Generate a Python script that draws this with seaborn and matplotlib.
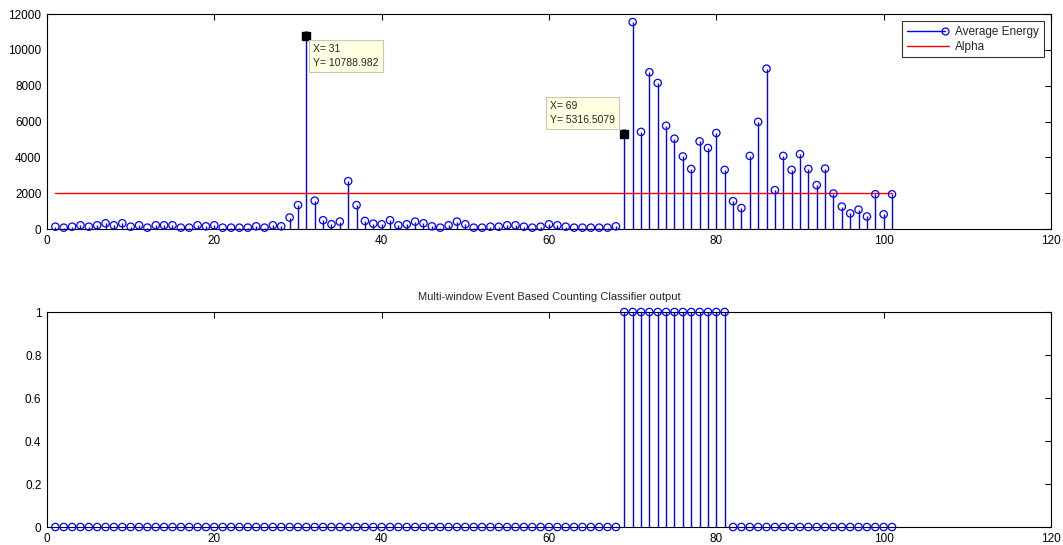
import numpy as np
import pandas as pd
import matplotlib
matplotlib.use("Agg")
import matplotlib.pyplot as plt
import seaborn as sns
from matplotlib.lines import Line2D
from matplotlib.legend_handler import HandlerBase

# ---------------- data ----------------
x_index = list(range(1, 102))
avg_energy = [
    130, 75, 130, 207, 130, 207, 320, 207, 320, 130,   # 1-10
    207, 75, 207, 207, 207, 75, 75, 207, 150, 207,      # 11-20
    75, 75, 75, 75, 150, 75, 207, 150, 640, 1335,       # 21-30
    10788.982, 1580, 490, 263, 414, 2670, 1335, 450, 300, 263,  # 31-40
    490, 207, 263, 414, 320, 150, 75, 207, 414, 263,    # 41-50
    75, 75, 130, 130, 207, 207, 130, 75, 130, 263,      # 51-60
    207, 130, 75, 75, 75, 75, 75, 150, 5316.5079, 11550,  # 61-70
    5420, 8750, 8150, 5760, 5040, 4050, 3350, 4890, 4520, 5360,  # 71-80
    3300, 1550, 1170, 4080, 5980, 8950, 2170, 4080, 3300, 4180,  # 81-90
    3350, 2450, 3370, 1980, 1250, 870, 1080, 700, 1940, 820,     # 91-100
    1940,                                                        # 101
]
alpha_level = 2000
classifier_out = [1 if 69 <= i <= 81 else 0 for i in x_index]

tips = [(31, 10788.982, "X= 31\nY= 10788.982"),
        (69, 5316.5079, "X= 69\nY= 5316.5079")]

bottom_title = "Multi-window Event Based Counting Classifier output"
legend_labels = ["Average Energy", "Alpha"]

# ---------------- style ----------------
sns.set_theme(style="white")
plt.rcParams["font.family"] = ["Liberation Sans", "DejaVu Sans"]
plt.rcParams["font.size"] = 8.5

df = pd.DataFrame({"x": x_index, "energy": avg_energy, "cls": classifier_out})

fig = plt.figure(figsize=(10.63, 5.45), dpi=100)
fig.patch.set_facecolor("white")
ax1 = fig.add_axes([0.0442, 0.5798, 0.9445, 0.3945])
ax2 = fig.add_axes([0.0442, 0.0330, 0.9445, 0.3945])

BLUE = "#0000ff"
RED = "#ff0000"


def style_axes(ax):
    for s in ax.spines.values():
        s.set_visible(True)
        s.set_color("black")
        s.set_linewidth(0.8)
    ax.tick_params(direction="in", length=4, width=0.8, top=True, right=True,
                   labelsize=8.5, colors="black", pad=4)
    ax.set_xlabel("")
    ax.set_ylabel("")
    ax.grid(False)


def stem(ax, data, col):
    nz = data[data[col] != 0]
    ax.vlines(nz["x"], 0, nz[col], color=BLUE, linewidth=1.0, zorder=2)
    sns.scatterplot(data=data, x="x", y=col, ax=ax, marker="o", s=28,
                    facecolors="none", edgecolor=BLUE, linewidth=0.9,
                    zorder=3, legend=False)


# ---- top axes ----
stem(ax1, df, "energy")
alpha_df = pd.DataFrame({"x": [x_index[0], x_index[-1]], "a": [alpha_level] * 2})
sns.lineplot(data=alpha_df, x="x", y="a", ax=ax1, color=RED, linewidth=1.0, zorder=2)
ax1.set_xlim(0, 120)
ax1.set_ylim(0, 12000)
ax1.set_xticks(range(0, 121, 20))
ax1.set_yticks(range(0, 12001, 2000))
style_axes(ax1)

for (tx, ty, txt), (dx, dy, ha, va) in zip(tips, [(7, -8, "left", "top"),
                                                  (-9, 9, "right", "bottom")]):
    ax1.plot([tx], [ty], marker="s", color="black", ms=5.5, zorder=5, linestyle="none")
    ax1.annotate(txt, xy=(tx, ty), xytext=(dx, dy), textcoords="offset pixels",
                 ha=ha, va=va, multialignment="left", fontsize=7.5,
                 linespacing=1.5, zorder=6,
                 bbox=dict(boxstyle="square,pad=0.4", facecolor="#ffffe1",
                           edgecolor="#c8c8b4", linewidth=0.8))


class StemHandler(HandlerBase):
    def create_artists(self, legend, orig_handle, xdescent, ydescent,
                       width, height, fontsize, trans):
        y = height / 2 - ydescent
        line = Line2D([-xdescent, width - xdescent - 3], [y, y], color=BLUE,
                      linewidth=1.0, transform=trans)
        mk = Line2D([width - xdescent - 3], [y], marker="o", mfc="none",
                    mec=BLUE, ms=5, mew=0.9, linestyle="none", transform=trans)
        return [line, mk]


h_stem = Line2D([0], [0], color=BLUE)
h_alpha = Line2D([0], [0], color=RED, linewidth=1.0)
leg = ax1.legend([h_stem, h_alpha], legend_labels,
                 handler_map={h_stem: StemHandler()},
                 loc="upper right", fontsize=8.5, frameon=True, fancybox=False,
                 borderaxespad=0.6, handlelength=3.6, handletextpad=0.5,
                 labelspacing=0.25, borderpad=0.4)
leg.get_frame().set_edgecolor("black")
leg.get_frame().set_linewidth(0.8)

# ---- bottom axes ----
stem(ax2, df, "cls")
ax2.set_xlim(0, 120)
ax2.set_ylim(0, 1)
ax2.set_xticks(range(0, 121, 20))
ax2.set_yticks([0, 0.2, 0.4, 0.6, 0.8, 1])
ax2.set_yticklabels(["0", "0.2", "0.4", "0.6", "0.8", "1"])
style_axes(ax2)
ax2.set_title(bottom_title, fontsize=8, pad=9)
for a in (ax1, ax2):
    for c in a.collections:
        c.set_clip_on(False)

fig.savefig("out.png", dpi=100, facecolor="white")
